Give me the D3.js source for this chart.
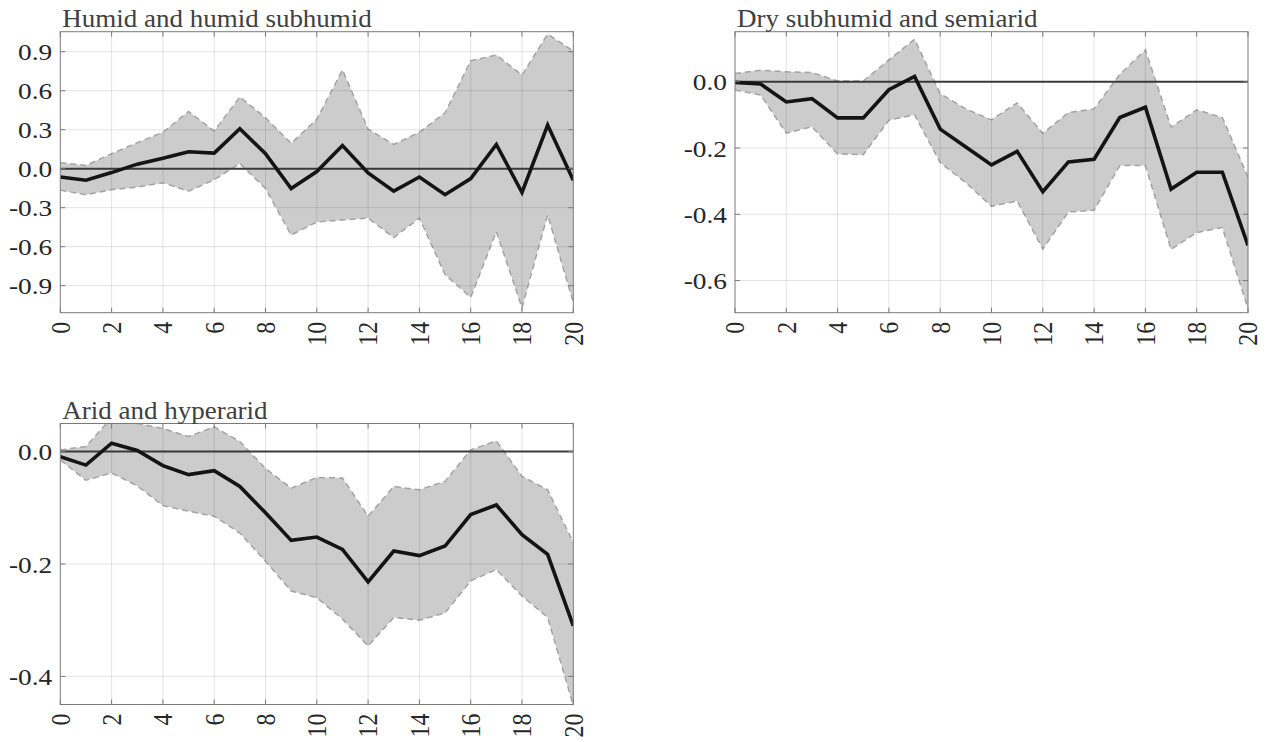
<!DOCTYPE html>
<html>
<head>
<meta charset="utf-8">
<script src="https://cdn.jsdelivr.net/npm/d3@7"></script>
<style>
  body { margin: 0; background: #fff; }
  svg text { font-family: "Liberation Serif", "Times New Roman", serif; }
</style>
</head>
<body>
<div id="chart"></div>
<script>
// horizon (lags) on the x axis
const lags = [0, 1, 2, 3, 4, 5, 6, 7, 8, 9, 10, 11, 12, 13, 14, 15, 16, 17, 18, 19, 20];
const xTicks = [0, 2, 4, 6, 8, 10, 12, 14, 16, 18, 20];

// Humid and humid subhumid
const humidMean = [-0.064, -0.089, -0.03, 0.035, 0.08, 0.13, 0.12, 0.307, 0.115, -0.153, -0.022, 0.178, -0.033, -0.173, -0.064, -0.2, -0.076, 0.186, -0.183, 0.336, -0.089];
const humidUpper = [0.046, 0.025, 0.115, 0.2, 0.28, 0.44, 0.29, 0.552, 0.392, 0.195, 0.38, 0.76, 0.305, 0.186, 0.28, 0.43, 0.83, 0.875, 0.72, 1.035, 0.905];
const humidLower = [-0.165, -0.2, -0.162, -0.142, -0.108, -0.173, -0.085, 0.04, -0.153, -0.51, -0.41, -0.395, -0.38, -0.53, -0.38, -0.815, -0.99, -0.485, -1.07, -0.355, -1.03];
const humidTicks = [0.9, 0.6, 0.3, 0.0, -0.3, -0.6, -0.9];
const humidRange = [-1.108, 1.054];

// Dry subhumid and semiarid
const dryMean = [-0.002, -0.007, -0.061, -0.051, -0.109, -0.109, -0.024, 0.016, -0.143, -0.197, -0.251, -0.21, -0.332, -0.242, -0.234, -0.108, -0.077, -0.324, -0.273, -0.273, -0.494];
const dryUpper = [0.025, 0.035, 0.03, 0.028, 0.002, 0.002, 0.066, 0.128, -0.036, -0.082, -0.115, -0.064, -0.156, -0.093, -0.082, 0.022, 0.096, -0.137, -0.085, -0.108, -0.288];
const dryLower = [-0.025, -0.04, -0.155, -0.136, -0.218, -0.22, -0.116, -0.1, -0.244, -0.305, -0.376, -0.36, -0.505, -0.393, -0.388, -0.253, -0.253, -0.506, -0.455, -0.44, -0.685];
const dryTicks = [0.0, -0.2, -0.4, -0.6];
const dryRange = [-0.697, 0.151];

// Arid and hyperarid
const aridMean = [-0.009, -0.024, 0.015, 0.002, -0.025, -0.041, -0.034, -0.062, -0.109, -0.158, -0.152, -0.174, -0.232, -0.177, -0.185, -0.168, -0.112, -0.095, -0.148, -0.183, -0.31];
const aridUpper = [0.003, 0.009, 0.06, 0.05, 0.041, 0.027, 0.044, 0.018, -0.03, -0.065, -0.046, -0.047, -0.115, -0.062, -0.068, -0.053, 0.003, 0.019, -0.044, -0.068, -0.162];
const aridLower = [-0.015, -0.051, -0.038, -0.061, -0.096, -0.106, -0.115, -0.145, -0.195, -0.248, -0.26, -0.298, -0.346, -0.295, -0.3, -0.287, -0.23, -0.21, -0.257, -0.295, -0.452];
const aridTicks = [0.0, -0.2, -0.4];
const aridRange = [-0.45, 0.05];

const width = 1266;
const height = 742;
const plotW = 513;
const plotH = 281;

const panels = [
  { title: 'Humid and humid subhumid', mean: humidMean, upper: humidUpper, lower: humidLower, ticks: humidTicks, range: humidRange, left: 60.3, top: 31.7 },
  { title: 'Dry subhumid and semiarid', mean: dryMean, upper: dryUpper, lower: dryLower, ticks: dryTicks, range: dryRange, left: 735, top: 31.7 },
  { title: 'Arid and hyperarid', mean: aridMean, upper: aridUpper, lower: aridLower, ticks: aridTicks, range: aridRange, left: 60.3, top: 423.5 },
];

const svg = d3
  .select('#chart')
  .append('svg')
  .attr('width', width)
  .attr('height', height);

const stretch = 1.14; // the reference glyphs are a bit wider than Times

panels.forEach((p, k) => {
  const g = svg.append('g').attr('transform', `translate(${p.left},${p.top})`);

  const x = d3.scaleLinear().domain([0, 20]).range([0, plotW]);
  const y = d3.scaleLinear().domain(p.range).range([plotH, 0]);

  g.append('clipPath')
    .attr('id', `clip${k}`)
    .append('rect')
    .attr('width', plotW)
    .attr('height', plotH);

  const plot = g.append('g').attr('clip-path', `url(#clip${k})`);

  // confidence band
  const area = d3
    .area()
    .x((d, i) => x(lags[i]))
    .y0((d, i) => y(p.lower[i]))
    .y1((d) => y(d));
  plot.append('path').datum(p.upper).attr('d', area).attr('fill', '#cccccc');

  const edge = d3.line().x((d, i) => x(lags[i])).y((d) => y(d));
  [p.upper, p.lower].forEach((b) => {
    plot
      .append('path')
      .datum(b)
      .attr('d', edge)
      .attr('fill', 'none')
      .attr('stroke', '#a3a3a3')
      .attr('stroke-width', 1.5)
      .attr('stroke-dasharray', '6,4');
  });

  // zero line
  plot
    .append('line')
    .attr('x1', 0)
    .attr('x2', plotW)
    .attr('y1', y(0))
    .attr('y2', y(0))
    .attr('stroke', '#3c3c3c')
    .attr('stroke-width', 2);

  // point estimate
  plot
    .append('path')
    .datum(p.mean)
    .attr('d', edge)
    .attr('fill', 'none')
    .attr('stroke', '#141414')
    .attr('stroke-width', 3.6)
    .attr('stroke-linejoin', 'miter');

  // grid on top, like matlab's layer top
  const grid = g.append('g').attr('stroke', '#262626').attr('stroke-opacity', 0.13);
  grid.selectAll('.gx')
    .data(xTicks.slice(1, -1))
    .join('line')
    .attr('x1', (d) => x(d))
    .attr('x2', (d) => x(d))
    .attr('y1', 0)
    .attr('y2', plotH);
  grid.selectAll('.gy')
    .data(p.ticks)
    .join('line')
    .attr('x1', 0)
    .attr('x2', plotW)
    .attr('y1', (d) => y(d))
    .attr('y2', (d) => y(d));

  // box and inward ticks
  const axisColor = '#7a7a7a';
  g.append('rect')
    .attr('width', plotW)
    .attr('height', plotH)
    .attr('fill', 'none')
    .attr('stroke', axisColor)
    .attr('stroke-width', 1);

  const tl = 5;
  const ticks = g.append('g').attr('stroke', axisColor);
  xTicks.forEach((t) => {
    ticks.append('line').attr('x1', x(t)).attr('x2', x(t)).attr('y1', plotH).attr('y2', plotH - tl);
    ticks.append('line').attr('x1', x(t)).attr('x2', x(t)).attr('y1', 0).attr('y2', tl);
  });
  p.ticks.forEach((t) => {
    ticks.append('line').attr('x1', 0).attr('x2', tl).attr('y1', y(t)).attr('y2', y(t));
    ticks.append('line').attr('x1', plotW).attr('x2', plotW - tl).attr('y1', y(t)).attr('y2', y(t));
  });

  // tick labels
  g.selectAll('.ylab')
    .data(p.ticks)
    .join('text')
    .attr('transform', (d) => `translate(-8,${y(d)}) scale(${stretch},1)`)
    .attr('dy', '0.36em')
    .attr('text-anchor', 'end')
    .attr('font-size', 24)
    .attr('fill', '#262626')
    .text((d) => d.toFixed(1));

  g.selectAll('.xlab')
    .data(xTicks)
    .join('text')
    .attr('transform', (d) => `translate(${x(d)},${plotH + 9}) scale(${stretch},1) rotate(-90)`)
    .attr('dy', '0.34em')
    .attr('text-anchor', 'end')
    .attr('font-size', 24)
    .attr('fill', '#262626')
    .text((d) => d);

  // panel title
  g.append('text')
    .attr('transform', `translate(2,-5) scale(1.08,1)`)
    .attr('font-size', 25)
    .attr('fill', '#404040')
    .text(p.title);
});
</script>
</body>
</html>
